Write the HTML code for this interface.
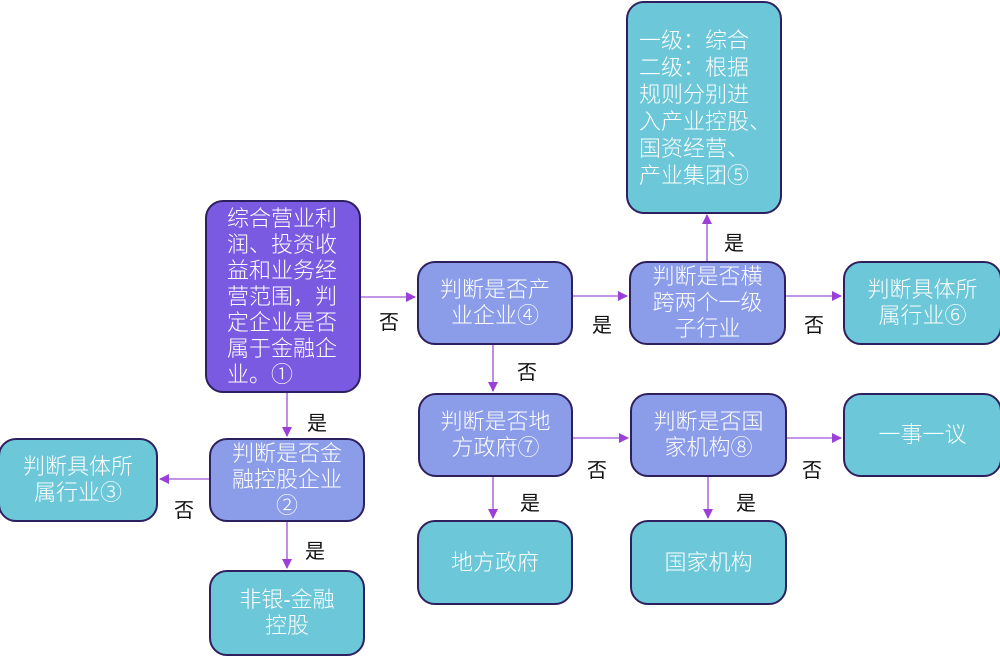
<!DOCTYPE html>
<html><head><meta charset="utf-8"><style>
body{margin:0;width:1000px;height:654px;background:#fff;position:relative;overflow:hidden;font-family:"Liberation Sans","Noto Sans CJK SC",sans-serif}
.n{position:absolute;box-sizing:border-box;border:2px solid #2e1f5e;border-radius:18px;color:#fff;font-size:22px;line-height:26px;display:flex;align-items:center;justify-content:center;text-align:center;font-weight:300}
.p{background:#8b9de9}
.t{background:#6cc8d9}
.l{position:absolute;font-size:20px;color:#111}
</style></head><body>
<svg width="1000" height="654" style="position:absolute;left:0;top:0">
<defs><marker id="a" markerWidth="10" markerHeight="10" refX="9" refY="5" orient="auto" markerUnits="userSpaceOnUse"><path d="M0,0 L10,5 L0,10z" fill="#9b3fd8"/></marker></defs>
<g stroke="#b070e0" stroke-width="1.6" fill="none" marker-end="url(#a)">
<line x1="360" y1="297" x2="415" y2="297"/>
<line x1="572" y1="296" x2="627" y2="296"/>
<line x1="786" y1="296" x2="841" y2="296"/>
<line x1="707" y1="261" x2="707" y2="215"/>
<line x1="493" y1="344" x2="493" y2="391"/>
<line x1="573" y1="438" x2="628" y2="438"/>
<line x1="787" y1="438" x2="841" y2="438"/>
<line x1="493" y1="476" x2="493" y2="518"/>
<line x1="708" y1="476" x2="708" y2="518"/>
<line x1="287" y1="392" x2="287" y2="436"/>
<line x1="209" y1="479" x2="160" y2="479"/>
<line x1="287" y1="521" x2="287" y2="568"/>
</g></svg>
<div class="n" style="left:205px;top:200px;width:156px;height:193px;background:#7a5ae0;text-align:left;justify-content:flex-start;padding-left:20px">综合营业利<br>润、投资收<br>益和业务经<br>营范围，判<br>定企业是否<br>属于金融企<br>业。①</div>
<div class="n p" style="left:209px;top:438px;width:156px;height:84px">判断是否金<br>融控股企业<br>②</div>
<div class="n t" style="left:-2px;top:438px;width:160px;height:84px">判断具体所<br>属行业③</div>
<div class="n t" style="left:209px;top:570px;width:156px;height:86px">非银-金融<br>控股</div>
<div class="n p" style="left:417px;top:261px;width:156px;height:84px">判断是否产<br>业企业④</div>
<div class="n p" style="left:629px;top:261px;width:157px;height:84px">判断是否横<br>跨两个一级<br>子行业</div>
<div class="n t" style="left:626px;top:1px;width:156px;height:213px;text-align:left;justify-content:flex-start;padding-left:11px;line-height:27px">一级：综合<br>二级：根据<br>规则分别进<br>入产业控股、<br>国资经营、<br>产业集团⑤</div>
<div class="n t" style="left:843px;top:261px;width:159px;height:84px">判断具体所<br>属行业⑥</div>
<div class="n p" style="left:418px;top:393px;width:155px;height:84px">判断是否地<br>方政府⑦</div>
<div class="n p" style="left:630px;top:393px;width:157px;height:84px">判断是否国<br>家机构⑧</div>
<div class="n t" style="left:843px;top:393px;width:159px;height:84px">一事一议</div>
<div class="n t" style="left:417px;top:520px;width:156px;height:85px">地方政府</div>
<div class="n t" style="left:630px;top:520px;width:157px;height:85px">国家机构</div>
<div class="l" style="left:379px;top:306px">否</div>
<div class="l" style="left:592px;top:309px">是</div>
<div class="l" style="left:804px;top:309px">否</div>
<div class="l" style="left:724px;top:227px">是</div>
<div class="l" style="left:517px;top:356px">否</div>
<div class="l" style="left:587px;top:454px">否</div>
<div class="l" style="left:802px;top:454px">否</div>
<div class="l" style="left:520px;top:487px">是</div>
<div class="l" style="left:736px;top:487px">是</div>
<div class="l" style="left:307px;top:407px">是</div>
<div class="l" style="left:174px;top:494px">否</div>
<div class="l" style="left:305px;top:535px">是</div>
</body></html>
